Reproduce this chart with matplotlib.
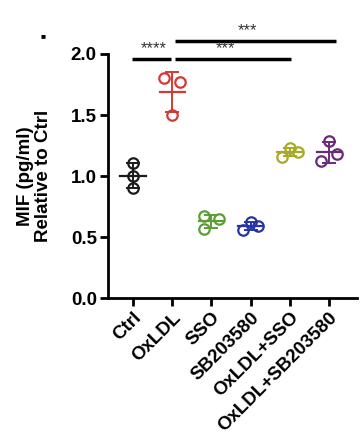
import matplotlib
matplotlib.use("Agg")
import matplotlib.pyplot as plt
import numpy as np

plt.rcParams['font.family'] = ['Liberation Sans', 'DejaVu Sans']
plt.rcParams['font.weight'] = 'bold'

groups = ["Ctrl", "OxLDL", "SSO", "SB203580", "OxLDL+SSO", "OxLDL+SB203580"]
values = [
    [1.11, 1.00, 0.90],
    [1.80, 1.77, 1.50],
    [0.67, 0.65, 0.57],
    [0.62, 0.59, 0.56],
    [1.23, 1.20, 1.16],
    [1.29, 1.18, 1.12],
]
colors = ["#1a1a1a", "#d33a35", "#5c9e35", "#2535a8", "#a7aa25", "#6a2a78"]
# horizontal scatter of the three replicates inside each group
jitter = [
    [0.0, 0.0, 0.0],
    [-0.2, 0.2, 0.0],
    [-0.2, 0.2, -0.2],
    [0.0, 0.2, -0.2],
    [0.0, 0.2, -0.2],
    [0.0, 0.2, -0.2],
]
# significance: (start, end, level, label)
sig_pairs = [(0, 1, 1.96, "****"), (1, 4, 1.96, "***"), (1, 5, 2.11, "***")]

fig = plt.figure(figsize=(3.62, 4.32), dpi=100)
ax = fig.add_axes([0.298, 0.31, 0.688, 0.565])

for i, (vals, c) in enumerate(zip(values, colors)):
    vals = np.array(vals)
    xs = i + np.array(jitter[i])
    ax.plot(xs, vals, 'o', ms=7.5, mfc='none', mec=c, mew=1.6, clip_on=False, zorder=3)
    m = vals.mean()
    sd = vals.std(ddof=1)
    ax.plot([i - 0.32, i + 0.32], [m, m], color=c, lw=1.6, zorder=2)
    ax.errorbar(i, m, yerr=sd, color=c, lw=1.4, capsize=5, capthick=1.4, fmt='none', zorder=2)

for a, b, lvl, lab in sig_pairs:
    if a == 0:
        x0, x1 = a - 0.03, b - 0.03
        tx = (x0 + x1) / 2 + 0.05
    else:
        x0, x1 = a + 0.08, b + 0.02 if b == 4 else b + 0.18
        tx = (x0 + x1) / 2 - 0.2
    ax.plot([x0, x1], [lvl, lvl], color='black', lw=2.5, clip_on=False, solid_capstyle='butt')
    ax.text(tx, lvl + 0.02, lab, ha='center', va='bottom', fontsize=12,
            color='#333333', fontweight='normal')

ax.set_xlim(-0.64, 5.71)
ax.set_ylim(0, 2.0)
ax.set_yticks([0.0, 0.5, 1.0, 1.5, 2.0])
ax.set_yticklabels(["0.0", "0.5", "1.0", "1.5", "2.0"], fontsize=13.5, fontweight='bold')
ax.set_xticks(range(len(groups)))
ax.set_xticklabels(groups, rotation=45, ha='right', rotation_mode='anchor', fontsize=13.5, fontweight='bold')
ax.set_ylabel("MIF (pg/ml)\nRelative to Ctrl", fontsize=13.5, fontweight='bold', linespacing=1.1)
ax.yaxis.set_label_coords(-0.225, 0.5)

for s in ['top', 'right']:
    ax.spines[s].set_visible(False)
for s in ['left', 'bottom']:
    ax.spines[s].set_linewidth(2)
ax.tick_params(width=2, length=6, pad=2)

fig.text(0.118, 0.915, "\u25a0", fontsize=6, ha='center', va='center')

fig.savefig("out.png", dpi=100)
